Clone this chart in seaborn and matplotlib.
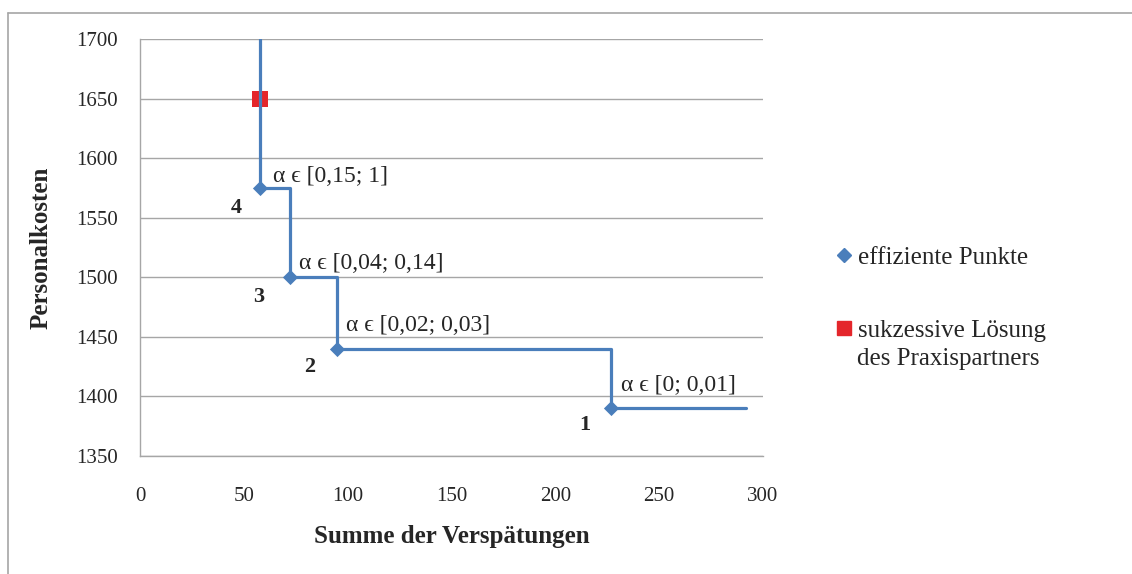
import numpy as np
import pandas as pd
import seaborn as sns
import matplotlib.pyplot as plt
from matplotlib.lines import Line2D

# efficient points (Summe der Verspätungen, Personalkosten)
point_x = [58, 72, 95, 227]
point_y = [1575, 1500, 1440, 1390]
point_ids = ["4", "3", "2", "1"]
alpha_labels = ["α ϵ [0,15; 1]", "α ϵ [0,04; 0,14]", "α ϵ [0,02; 0,03]", "α ϵ [0; 0,01]"]

# staircase through the efficient points
step_x = [58, 58, 72, 72, 95, 95, 227, 227, 292]
step_y = [1700, 1575, 1575, 1500, 1500, 1440, 1440, 1390, 1390]

# solution of the practice partner
partner_x = [58]
partner_y = [1650]

x_ticks = [0, 50, 100, 150, 200, 250, 300]
y_ticks = [1350, 1400, 1450, 1500, 1550, 1600, 1650, 1700]

blue = "#4A7EBB"
red = "#E4262B"
grid = "#A6A6A6"

sns.set_style("white")
plt.rcParams['font.family'] = ['Liberation Serif', 'DejaVu Serif']

fig = plt.figure(figsize=(11.32, 5.74), dpi=100)
ax = fig.add_axes([140 / 1132, 118 / 574, 623 / 1132, 417 / 574])

ax.plot(step_x, step_y, color=blue, lw=2.3, zorder=3)
pts = pd.DataFrame({"x": point_x, "y": point_y})
sns.scatterplot(data=pts, x="x", y="y", marker="D", s=60, color=blue,
                edgecolor=blue, linewidth=0, ax=ax, zorder=4)
partner = pd.DataFrame({"x": partner_x, "y": partner_y})
sns.scatterplot(data=partner, x="x", y="y", marker="s", s=120, color=red,
                edgecolor=red, linewidth=0, ax=ax, zorder=2)

# label offsets in pixels (alpha range, point number)
alpha_off = [(13, 11), (9, 14), (9, 23), (10, 23)]
id_off = [(-24, -20), (-31, -20), (-28, -18), (-27, -17)]
for i in range(len(point_x)):
    ax.annotate(alpha_labels[i], (point_x[i], point_y[i]), xytext=alpha_off[i],
                textcoords="offset pixels", ha="left", va="center", fontsize=17)
    ax.annotate(point_ids[i], (point_x[i], point_y[i]), xytext=id_off[i],
                textcoords="offset pixels", ha="center", va="center",
                fontsize=16, fontweight="bold")

ax.set_xlim(0, 300)
ax.set_ylim(1350, 1700)
ax.set_xticks(x_ticks)
ax.set_yticks(y_ticks)
ax.tick_params(axis="both", length=0, labelsize=15)
ax.tick_params(axis="x", pad=22)
ax.tick_params(axis="y", pad=16)
ax.grid(axis="y", color=grid, lw=1)
ax.grid(axis="x", visible=False)
for side in ["top", "right"]:
    ax.spines[side].set_visible(False)
for side in ["left", "bottom"]:
    ax.spines[side].set_color(grid)
    ax.spines[side].set_linewidth(1)

ax.set_xlabel("Summe der Verspätungen", fontsize=18, fontweight="bold", labelpad=14)
ax.set_ylabel("Personalkosten", fontsize=18, fontweight="bold", labelpad=17)

handles = [
    Line2D([], [], marker="D", color=blue, ls="none", markersize=7),
    Line2D([], [], marker="s", color=red, ls="none", markersize=10),
]
fig.legend(handles, ["effiziente Punkte", "sukzessive Lösung"],
           loc="upper left", bbox_to_anchor=(815 / 1132, 1 - 224 / 574),
           frameon=False, fontsize=18, handlelength=0.5, handletextpad=0.3,
           labelspacing=2.0)
fig.text(857 / 1132, 1 - 359 / 574, "des Praxispartners", fontsize=18,
         ha="left", va="center")

# outer chart frame
fig.add_artist(Line2D([8 / 1132, 1], [1 - 13 / 574, 1 - 13 / 574],
                      transform=fig.transFigure, color=grid, lw=1.2))
fig.add_artist(Line2D([8 / 1132, 8 / 1132], [0, 1 - 13 / 574],
                      transform=fig.transFigure, color=grid, lw=1.2))

fig.savefig("out.png", dpi=100)
